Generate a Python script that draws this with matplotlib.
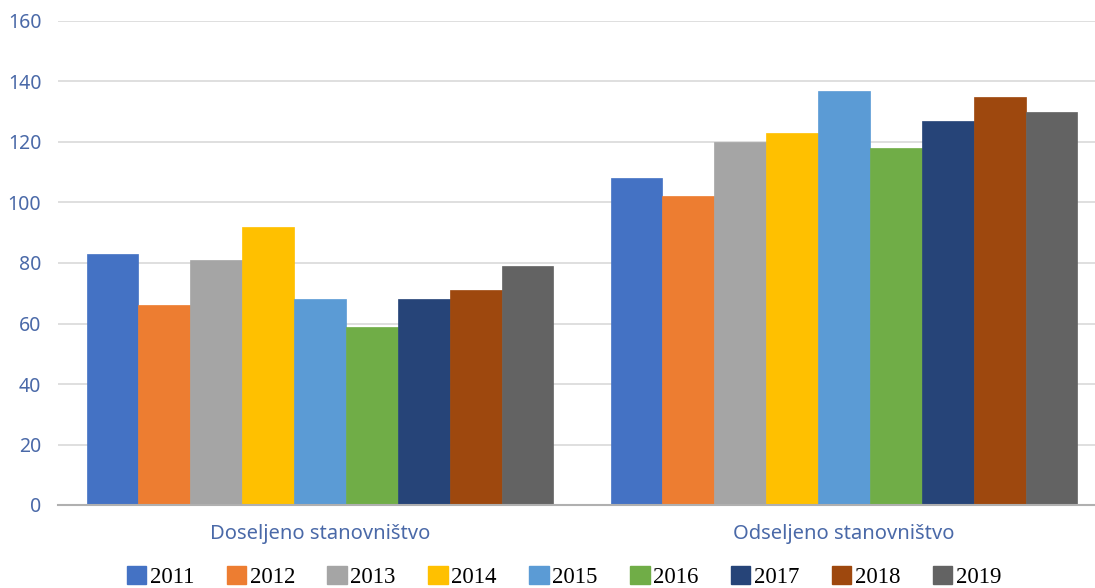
import numpy as np
import matplotlib
matplotlib.use('Agg')
import matplotlib.pyplot as plt
from matplotlib.patches import Patch

categories = ['Doseljeno stanovništvo', 'Odseljeno stanovništvo']
years = ['2011', '2012', '2013', '2014', '2015', '2016', '2017', '2018', '2019']
doseljeno = [83, 66, 81, 92, 68, 59, 68, 71, 79]
odseljeno = [108, 102, 120, 123, 137, 118, 127, 135, 130]
yticks = [0, 20, 40, 60, 80, 100, 120, 140, 160]

colors = ['#4472C4', '#ED7D31', '#A5A5A5', '#FFC000', '#5B9BD5',
          '#70AD47', '#264478', '#9E480E', '#636363']
label_color = '#4A69A8'

fig = plt.figure(figsize=(10.95, 5.88), dpi=100)
ax = fig.add_axes([58/1095, 1 - 505/588, 1 - 58/1095, 484/588])

barW = 0.099
x = np.arange(len(categories))
for i, yr in enumerate(years):
    vals = [doseljeno[i], odseljeno[i]]
    offs = (i - (len(years) - 1) / 2) * barW
    ax.bar(x + offs, vals, barW, color=colors[i], edgecolor=colors[i],
           linewidth=0.5, zorder=3)

ax.set_xlim(-0.5, (1095 - 320) / 524)
ax.set_ylim(0, 160)
ax.set_yticks(yticks)
ax.set_yticklabels([str(t) for t in yticks], family='Noto Sans', fontsize=14,
                   color=label_color)
ax.tick_params(axis='y', length=0, pad=12)
ax.set_xticks(x)
ax.set_xticklabels(categories, family='Noto Sans', fontsize=14.5, color=label_color)
ax.tick_params(axis='x', length=0, pad=14)

ax.grid(axis='y', color='#d9d9d9', linewidth=1.2, zorder=0)
for s in ['top', 'right', 'left']:
    ax.spines[s].set_visible(False)
ax.spines['bottom'].set_color('#b0b0b0')
ax.spines['bottom'].set_linewidth(1.5)
ax.spines['bottom'].set_zorder(4)

handles = [Patch(facecolor=c, edgecolor=c) for c in colors]
fig.legend(handles, years, loc='lower center', bbox_to_anchor=(0.515, -0.035),
           ncol=9, frameon=False, prop={'family': 'Liberation Serif', 'size': 16.5},
           handlelength=0.85, handleheight=0.85, handletextpad=0.15,
           columnspacing=1.42)

fig.savefig('out.png', dpi=100)
